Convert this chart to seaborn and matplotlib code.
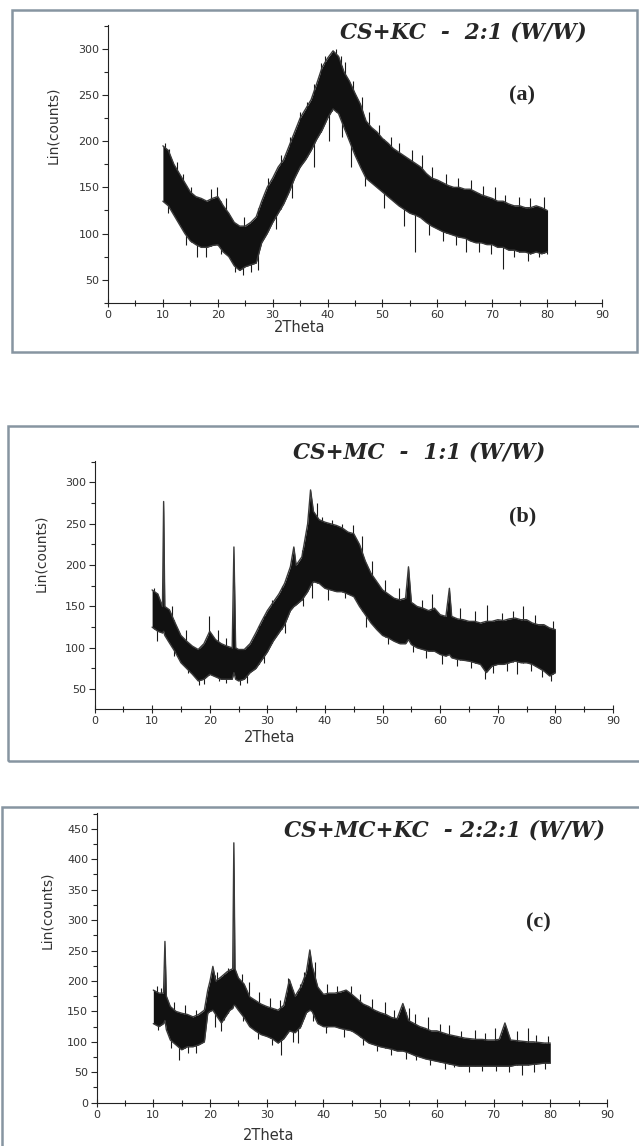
import numpy as np
import pandas as pd
import seaborn as sns
import matplotlib.pyplot as plt
from matplotlib.patches import Rectangle
from matplotlib.ticker import MultipleLocator

# XRD envelopes (2Theta, lower / upper edge of the noisy trace)
theta_a = [10, 11, 12, 13, 14, 15, 16, 17, 18, 19, 20, 21, 22, 23, 24, 25, 26, 27, 28, 29,
           30, 31, 32, 33, 34, 35, 36, 37, 38, 39, 40, 41, 42, 43, 44, 45, 46, 47, 48, 49,
           50, 51, 52, 53, 54, 55, 56, 57, 58, 59, 60, 61, 62, 63, 64, 65, 66, 67, 68, 69,
           70, 71, 72, 73, 74, 75, 76, 77, 78, 79, 80]
hi_a = [195, 190, 175, 165, 155, 145, 140, 138, 135, 138, 140, 130, 122, 112, 108, 108, 112, 118, 135, 150,
        160, 172, 180, 195, 210, 225, 235, 245, 262, 280, 290, 298, 292, 275, 265, 252, 240, 222, 215, 210,
        203, 198, 192, 188, 184, 180, 176, 172, 165, 160, 158, 155, 152, 150, 150, 148, 148, 145, 142, 140,
        138, 135, 135, 132, 130, 130, 128, 128, 130, 128, 125]
lo_a = [135, 130, 120, 110, 100, 92, 88, 85, 85, 87, 88, 80, 75, 65, 60, 64, 66, 68, 90, 100,
        112, 122, 132, 145, 160, 172, 180, 190, 202, 212, 225, 235, 230, 215, 200, 185, 172, 160, 155, 150,
        145, 140, 135, 130, 126, 122, 120, 117, 112, 108, 105, 102, 100, 98, 96, 95, 92, 90, 90, 88,
        88, 85, 85, 82, 82, 80, 80, 78, 80, 78, 80]
# isolated noise spikes (2Theta, tip value)
up_a_x = [10.3, 11.2, 12.5, 13.6, 15.2, 18.8, 19.8, 21.5, 24.8, 27.4, 29.2, 31.5, 33.2, 35.0, 36.3,
          37.6, 38.8, 39.6, 40.8, 41.6, 42.4, 43.2, 44.6, 46.2, 47.6, 49.4, 51.5, 53.0, 55.4, 57.2,
          59.0, 61.5, 63.8, 66.2, 68.4, 70.5, 72.4, 74.8, 76.9, 79.4]
up_a_y = [198, 192, 178, 165, 150, 148, 150, 138, 118, 128, 160, 185, 205, 232, 242,
          262, 285, 292, 296, 300, 292, 286, 265, 248, 232, 218, 205, 198, 190, 185,
          172, 165, 160, 158, 152, 150, 142, 140, 138, 140]
dn_a_x = [11.0, 14.2, 16.3, 17.8, 20.5, 23.2, 24.6, 26.0, 27.3, 30.6, 33.6, 37.5, 40.2, 42.6, 44.3,
          46.8, 50.2, 54.0, 56.0, 58.5, 61.0, 63.4, 65.2, 67.5, 69.8, 72.0, 74.0, 76.5, 78.6, 80.0]
dn_a_y = [122, 88, 75, 74, 78, 58, 55, 58, 60, 105, 138, 172, 200, 205, 172,
          152, 128, 108, 80, 98, 92, 88, 80, 80, 78, 62, 74, 70, 75, 78]

theta_b = [10, 11, 11.8, 12.0, 12.2, 13, 14, 15, 16, 17, 18, 19, 20, 21, 22, 23, 23.9, 24.2, 24.5, 25,
           26, 27, 28, 29, 30, 31, 32, 33, 34, 34.6, 35, 36, 37, 37.5, 38, 39, 40, 41, 42, 43,
           44, 45, 46, 47, 48, 49, 50, 51, 52, 53, 54, 54.5, 55, 56, 57, 58, 59, 60, 61, 61.6,
           62, 63, 64, 65, 66, 67, 68, 69, 70, 71, 72, 73, 74, 75, 76, 77, 78, 79, 80]
hi_b = [170, 165, 150, 277, 150, 146, 130, 115, 108, 102, 98, 105, 120, 110, 105, 102, 100, 222, 100, 98,
        98, 105, 118, 132, 145, 155, 165, 178, 198, 222, 200, 210, 250, 291, 265, 255, 252, 250, 248, 245,
        240, 238, 225, 205, 190, 180, 170, 165, 160, 158, 160, 198, 155, 150, 148, 145, 148, 140, 138, 172,
        138, 135, 134, 132, 132, 130, 132, 132, 134, 133, 135, 136, 134, 134, 130, 128, 128, 124, 122]
lo_b = [125, 120, 118, 120, 115, 106, 95, 82, 75, 68, 60, 62, 68, 65, 62, 62, 62, 70, 62, 60,
        62, 70, 75, 85, 95, 108, 118, 128, 145, 150, 152, 158, 168, 175, 180, 178, 172, 170, 168, 168,
        165, 162, 150, 140, 130, 122, 115, 112, 108, 105, 105, 110, 104, 100, 98, 96, 96, 92, 90, 92,
        88, 86, 85, 84, 82, 80, 70, 78, 80, 80, 82, 84, 82, 82, 80, 76, 72, 66, 70]
up_b_x = [10.4, 13.4, 15.8, 19.8, 21.4, 22.8, 28.5, 30.8, 32.5, 36.0, 38.6, 39.5, 41.2, 43.0, 44.9,
          46.5, 48.2, 50.5, 52.8, 56.8, 58.5, 63.5, 66.0, 68.2, 70.8, 72.6, 74.3, 76.4, 79.5]
up_b_y = [172, 150, 122, 138, 122, 112, 128, 158, 175, 218, 275, 258, 255, 250, 248,
          235, 205, 182, 172, 158, 165, 148, 145, 152, 142, 145, 150, 140, 132]
dn_b_x = [10.8, 13.8, 16.3, 18.2, 19.0, 21.6, 22.8, 25.3, 26.5, 29.5, 33.0, 36.2, 37.8, 40.5, 43.5,
          47.2, 51.0, 55.2, 57.6, 60.4, 63.0, 65.4, 67.8, 69.2, 71.6, 73.4, 75.8, 77.6, 79.3]
dn_b_y = [108, 90, 70, 55, 56, 60, 58, 55, 58, 82, 118, 150, 160, 158, 160,
          125, 105, 95, 88, 80, 78, 75, 62, 70, 72, 68, 72, 65, 60]

theta_c = [10, 11, 11.8, 12.05, 12.3, 13, 14, 15, 16, 17, 18, 19, 19.6, 20, 20.5, 21, 22, 23, 23.5, 24.0,
           24.2, 24.4, 25, 26, 27, 28, 29, 30, 31, 32, 33, 34, 35, 36, 37, 37.6, 38, 39, 40, 41,
           42, 43, 44, 45, 46, 47, 48, 49, 50, 51, 52, 53, 54, 55, 56, 57, 58, 59, 60, 61,
           62, 63, 64, 65, 66, 67, 68, 69, 70, 71, 72, 73, 74, 75, 76, 77, 78, 79, 80]
hi_c = [185, 180, 180, 265, 175, 158, 150, 147, 145, 141, 145, 152, 185, 200, 224, 200, 207, 215, 218, 220,
        427, 220, 205, 195, 174, 168, 162, 158, 155, 152, 160, 202, 175, 190, 215, 251, 225, 190, 178, 180,
        180, 182, 185, 178, 170, 162, 158, 152, 148, 145, 140, 138, 163, 135, 130, 125, 122, 118, 118, 115,
        112, 110, 108, 106, 105, 104, 104, 103, 103, 104, 131, 103, 102, 101, 100, 100, 99, 98, 98]
lo_c = [130, 125, 130, 135, 120, 103, 95, 87, 92, 92, 95, 100, 147, 150, 152, 145, 131, 145, 152, 155,
        160, 160, 152, 140, 125, 118, 112, 109, 105, 98, 105, 118, 115, 125, 148, 152, 150, 130, 125, 125,
        125, 122, 120, 118, 112, 105, 98, 95, 92, 90, 88, 85, 85, 82, 78, 75, 72, 70, 68, 66,
        64, 62, 60, 60, 60, 60, 60, 60, 60, 60, 60, 60, 62, 62, 62, 63, 64, 65, 65]
up_c_x = [10.6, 11.4, 13.6, 15.5, 17.6, 21.2, 22.4, 23.2, 25.6, 26.8, 28.6, 30.6, 32.4, 33.8, 35.8,
          36.6, 38.5, 40.6, 42.4, 44.8, 46.5, 48.6, 50.8, 52.4, 55.0, 56.2, 58.4, 60.6, 62.2, 64.3,
          66.8, 68.5, 70.2, 74.2, 76.0, 77.5, 79.6]
up_c_y = [192, 188, 165, 160, 152, 215, 212, 222, 212, 198, 182, 172, 168, 205, 195,
          215, 232, 195, 192, 192, 178, 170, 165, 152, 155, 145, 140, 130, 128, 118,
          120, 115, 122, 118, 122, 112, 110]
dn_c_x = [10.8, 13.2, 14.6, 16.2, 17.6, 20.8, 22.0, 25.8, 28.5, 31.0, 32.6, 34.6, 35.6, 38.2, 40.5,
          43.6, 47.0, 49.5, 52.0, 54.5, 56.4, 58.8, 61.5, 63.0, 65.6, 68.0, 70.5, 72.8, 75.0, 77.2, 79.0]
dn_c_y = [120, 90, 70, 82, 82, 125, 118, 135, 105, 95, 78, 100, 98, 135, 115,
          108, 95, 85, 78, 72, 70, 62, 55, 58, 50, 52, 52, 50, 45, 50, 55]

titles = ["CS+KC  -  2:1 (W/W)", "CS+MC  -  1:1 (W/W)", "CS+MC+KC  - 2:2:1 (W/W)"]
tags = ["(a)", "(b)", "(c)"]
xticks = list(range(0, 100, 10))

sns.set_style("ticks")
plt.rcParams['font.family'] = ['DejaVu Sans']

W, H = 639, 1146
fig = plt.figure(figsize=(W / 100, H / 100), dpi=100)


def px_rect(l, t, r, b):
    return [l / W, 1 - b / H, (r - l) / W, (b - t) / H]


# panel frames (pixel boxes)
frames = [(12, 10, 637, 352), (8, 426, 645, 761), (2, 807, 645, 1160)]
for l, t, r, b in frames:
    fig.patches.append(Rectangle((l / W, 1 - b / H), (r - l) / W, (b - t) / H,
                                 transform=fig.transFigure, fill=False,
                                 edgecolor="#8795a1", linewidth=1.8))

axes_px = [(108, 25, 602, 302.7), (94.5, 461, 613, 709), (96.6, 813, 607, 1102.7)]
ylims = [(25, 326), (26, 326), (0, 476)]
data = [(theta_a, lo_a, hi_a), (theta_b, lo_b, hi_b), (theta_c, lo_c, hi_c)]
spikes = [(up_a_x, up_a_y, dn_a_x, dn_a_y), (up_b_x, up_b_y, dn_b_x, dn_b_y),
          (up_c_x, up_c_y, dn_c_x, dn_c_y)]
title_pos = [(463, 33), (419, 452), (444, 830)]
tag_pos = [(522, 95), (523, 516), (538, 922)]
ylab_pos = [(53, 125), (41, 553), (47, 910)]
xlab_pos = [(300, 328), (270, 737), (269, 1135)]

for i in range(3):
    ax = fig.add_axes(px_rect(*axes_px[i]))
    th, lo, hi = data[i]
    df = pd.DataFrame({"theta": th, "lo": lo, "hi": hi})

    # spikes sit behind the band so only the part sticking out shows
    ux, uy, dx, dy = spikes[i]
    ax.vlines(ux, np.interp(ux, th, lo), uy, color="#1a1a1a", linewidth=0.8, zorder=1)
    ax.vlines(dx, dy, np.interp(dx, th, hi), color="#1a1a1a", linewidth=0.8, zorder=1)

    ax.fill_between(df["theta"], df["lo"], df["hi"], color="#111111", linewidth=0, zorder=2)
    sns.lineplot(data=df, x="theta", y="hi", ax=ax, color="#3a3a3a", linewidth=1.0, zorder=2)
    sns.lineplot(data=df, x="theta", y="lo", ax=ax, color="#3a3a3a", linewidth=1.0, zorder=2)

    ax.set_xlim(0, 90)
    ax.set_ylim(*ylims[i])
    ax.set_xticks(xticks)
    ax.xaxis.set_minor_locator(MultipleLocator(5))
    ax.yaxis.set_major_locator(MultipleLocator(50))
    ax.yaxis.set_minor_locator(MultipleLocator(25))
    ax.tick_params(axis="x", which="major", direction="inout", length=6, width=0.8,
                   labelsize=8, labelcolor="#333333", pad=2)
    ax.tick_params(axis="x", which="minor", direction="inout", length=4, width=0.8)
    ax.tick_params(axis="y", which="major", direction="out", length=4, width=0.8,
                   labelsize=8, labelcolor="#333333", pad=2)
    ax.tick_params(axis="y", which="minor", direction="out", length=3, width=0.8)
    for s in ["left", "bottom"]:
        ax.spines[s].set_linewidth(0.8)
        ax.spines[s].set_color("#222222")
    sns.despine(ax=ax)
    ax.set_xlabel("")
    ax.set_ylabel("")

    tx, ty = title_pos[i]
    fig.text(tx / W, 1 - ty / H, titles[i], ha="center", va="center",
             family="DejaVu Serif", fontweight="bold", fontstyle="italic", fontsize=15.5)
    gx, gy = tag_pos[i]
    fig.text(gx / W, 1 - gy / H, tags[i], ha="center", va="center",
             family="Liberation Serif", fontweight="bold", fontsize=16)
    yx, yy = ylab_pos[i]
    fig.text(yx / W, 1 - yy / H, "Lin(counts)", ha="center", va="center",
             rotation=90, fontsize=10, color="#333333")
    xx, xy = xlab_pos[i]
    fig.text(xx / W, 1 - xy / H, "2Theta", ha="center", va="center",
             fontsize=10.5, color="#333333")

fig.savefig("out.png", dpi=100, facecolor="white")
